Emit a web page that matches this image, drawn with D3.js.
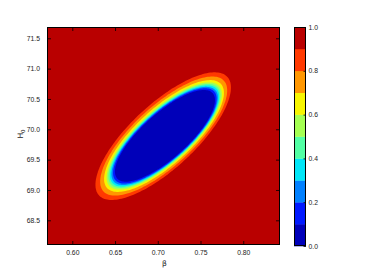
<!DOCTYPE html>
<html>
<head>
<meta charset="utf-8">
<script src="https://cdn.jsdelivr.net/npm/d3@7"></script>
<style>
  html, body { margin: 0; padding: 0; background: #fff; }
  svg { display: block; font-family: "DejaVu Sans", sans-serif; }
  .tick text { fill: #222; font-size: 6.8px; }
  .domain { display: none; }
</style>
</head>
<body>
<svg id="chart" width="376" height="273"></svg>
<script>
/* Filled contour of the normalised likelihood in the (beta, H0) plane,
   jet colour bands 0.0 .. 1.0 in steps of 0.1, with a colour bar. */

// axis ranges and ticks
const BETA_DOMAIN = [0.5704, 0.843];
const H0_DOMAIN = [68.093, 71.686];
const BETA_TICKS = [0.60, 0.65, 0.70, 0.75, 0.80];
const H0_TICKS = [68.5, 69.0, 69.5, 70.0, 70.5, 71.0, 71.5];
const CBAR_TICKS = [0.0, 0.2, 0.4, 0.6, 0.8, 1.0];

// contour levels, and the extent of each closed contour
const LEVELS  = [0.1,    0.2,    0.3,    0.4,    0.5,    0.6,    0.7,    0.8,    0.9];
const BETA_LO = [0.6499, 0.6477, 0.6458, 0.6440, 0.6422, 0.6401, 0.6372, 0.6326, 0.6271];
const BETA_HI = [0.7669, 0.7688, 0.7703, 0.7718, 0.7732, 0.7750, 0.7774, 0.7812, 0.7856];
const H0_LO   = [69.136, 69.106, 69.082, 69.057, 69.034, 69.006, 68.968, 68.907, 68.835];
const H0_HI   = [70.648, 70.677, 70.700, 70.723, 70.747, 70.773, 70.811, 70.870, 70.939];
const TILT    = [0.78,   0.78,   0.78,   0.78,   0.78,   0.775,  0.77,   0.765,  0.76];

// jet colours of the ten bands, lowest first
const BAND_COLORS = ['#0000b9', '#0019ff', '#0080ff', '#00e6f7', '#52ffa4',
                     '#a4ff52', '#f7f500', '#ff9700', '#ff3900', '#b90000'];

const svg = d3.select('#chart');
const M = { left: 47, right: 280, top: 27, bottom: 245 };

const x = d3.scaleLinear().domain(BETA_DOMAIN).range([M.left, M.right]);
const y = d3.scaleLinear().domain(H0_DOMAIN).range([M.bottom, M.top]);

svg.append('clipPath').attr('id', 'plot-clip')
  .append('rect')
  .attr('x', M.left).attr('y', M.top)
  .attr('width', M.right - M.left).attr('height', M.bottom - M.top);

const plot = svg.append('g').attr('clip-path', 'url(#plot-clip)');

// everything above the top level
plot.append('rect')
  .attr('x', M.left).attr('y', M.top)
  .attr('width', M.right - M.left).attr('height', M.bottom - M.top)
  .attr('fill', BAND_COLORS[LEVELS.length]);

function contourPoints(i){
  const cb = (BETA_LO[i] + BETA_HI[i]) / 2, ab = (BETA_HI[i] - BETA_LO[i]) / 2;
  const ch = (H0_LO[i] + H0_HI[i]) / 2, ah = (H0_HI[i] - H0_LO[i]) / 2;
  const r = TILT[i], s = Math.sqrt(1 - r * r);
  return d3.range(0, 2 * Math.PI, Math.PI / 90).map(t =>
    [x(cb + ab * Math.cos(t)), y(ch + ah * (r * Math.cos(t) + s * Math.sin(t)))]);
}

const line = d3.line().curve(d3.curveLinearClosed);

// outermost contour first, each filled with the band just below its level
plot.selectAll('path.band')
  .data(d3.range(LEVELS.length).reverse())
  .join('path')
  .attr('class', 'band')
  .attr('d', i => line(contourPoints(i)))
  .attr('fill', i => BAND_COLORS[i]);

// axes: ticks inward on all four sides
const TICK = 4;
svg.append('g').attr('transform', `translate(0,${M.bottom})`)
  .call(d3.axisBottom(x).tickValues(BETA_TICKS).tickFormat(d3.format('.2f'))
    .tickSizeInner(-TICK).tickSizeOuter(0).tickPadding(5));
svg.append('g').attr('transform', `translate(0,${M.top})`)
  .call(d3.axisTop(x).tickValues(BETA_TICKS).tickFormat('')
    .tickSizeInner(-TICK).tickSizeOuter(0));
svg.append('g').attr('transform', `translate(${M.left},0)`)
  .call(d3.axisLeft(y).tickValues(H0_TICKS).tickFormat(d3.format('.1f'))
    .tickSizeInner(-TICK).tickSizeOuter(0).tickPadding(7));
svg.append('g').attr('transform', `translate(${M.right},0)`)
  .call(d3.axisRight(y).tickValues(H0_TICKS).tickFormat('')
    .tickSizeInner(-TICK).tickSizeOuter(0));

svg.selectAll('.tick line').attr('stroke', '#000').attr('stroke-width', 0.8);

svg.append('rect')
  .attr('x', M.left + 0.5).attr('y', M.top + 0.5)
  .attr('width', M.right - M.left - 1).attr('height', M.bottom - M.top - 1)
  .attr('fill', 'none').attr('stroke', '#000').attr('stroke-width', 1);

// axis labels
svg.append('text')
  .attr('x', (M.left + M.right) / 2 + 1).attr('y', 266)
  .attr('text-anchor', 'middle').attr('font-size', 7.5).attr('fill', '#222')
  .text('β');

const yl = svg.append('text')
  .attr('transform', 'translate(23,134) rotate(-90)')
  .attr('text-anchor', 'middle').attr('font-size', 7.5).attr('fill', '#222');
yl.append('tspan').text('H');
yl.append('tspan').attr('dy', 2).attr('font-size', 5.5).text('0');

// colour bar
const CB = { left: 294, right: 306, top: 27, bottom: 246 };
const c = d3.scaleLinear().domain([0, 1]).range([CB.bottom, CB.top]);
const bandEdges = [0].concat(LEVELS, [1]);

svg.append('g').selectAll('rect')
  .data(BAND_COLORS)
  .join('rect')
  .attr('x', CB.left)
  .attr('y', (d, i) => c(bandEdges[i + 1]))
  .attr('width', CB.right - CB.left)
  .attr('height', (d, i) => c(bandEdges[i]) - c(bandEdges[i + 1]) + 0.3)
  .attr('fill', d => d);

svg.append('rect')
  .attr('x', CB.left + 0.5).attr('y', CB.top + 0.5)
  .attr('width', CB.right - CB.left - 1).attr('height', CB.bottom - CB.top - 1)
  .attr('fill', 'none').attr('stroke', '#000').attr('stroke-width', 1);

svg.append('g').attr('transform', `translate(${CB.right},0)`)
  .call(d3.axisRight(c).tickValues(CBAR_TICKS).tickFormat(d3.format('.1f'))
    .tickSizeInner(-2.5).tickSizeOuter(0).tickPadding(2.5))
  .selectAll('.tick line').attr('stroke', '#000').attr('stroke-width', 0.8);
</script>
</body>
</html>
